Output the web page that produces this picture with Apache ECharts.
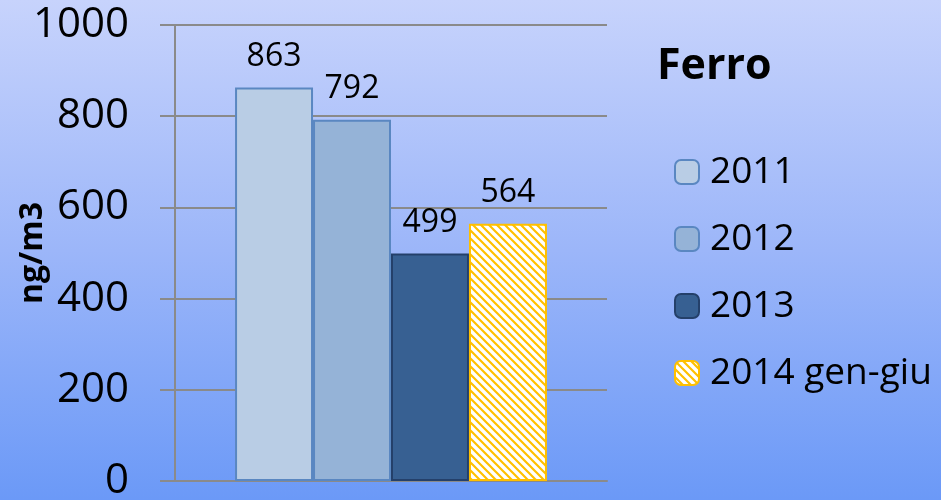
<!DOCTYPE html>
<html>
<head>
<meta charset="utf-8">
<script src="https://cdn.jsdelivr.net/npm/echarts@6/dist/echarts.min.js"></script>
<style>
  html, body { margin: 0; padding: 0; }
  #container {
    width: 941px; height: 500px;
    background: linear-gradient(to bottom, #c7d3fc 0%, #9cb6f9 50%, #6b99f7 100%);
  }
</style>
</head>
<body>
<div id="container"></div>
<script>
var myChart = echarts.init(document.getElementById('container'));

// data
var seriesNames = ['2011', '2012', '2013', '2014 gen-giu'];
var values = [863, 792, 499, 564];
var yTicks = [0, 200, 400, 600, 800, 1000];

var font = 'Open Sans';
var gray = '#8a8a8a';

// diagonal hatch for the last bar
var hatch = document.createElement('canvas');
hatch.width = 8;
hatch.height = 8;
var ctx = hatch.getContext('2d');
ctx.fillStyle = '#ffffff';
ctx.fillRect(0, 0, 8, 8);
ctx.strokeStyle = '#ffc000';
ctx.lineWidth = 2.2;
ctx.beginPath();
ctx.moveTo(-2, -2); ctx.lineTo(10, 10);
ctx.moveTo(-6, 2); ctx.lineTo(2, 10);
ctx.moveTo(6, -2); ctx.lineTo(14, 6);
ctx.stroke();

var fills = ['#b9cde5', '#95b3d7', '#376092', { image: hatch, repeat: 'repeat' }];
var borders = ['#5a87c1', '#5a87c1', '#24406a', '#ffc000'];

var series = seriesNames.map(function (name, i) {
  return {
    name: name,
    type: 'bar',
    barGap: '0%',
    barCategoryGap: '27.8%',
    data: [values[i]],
    itemStyle: { color: fills[i], borderColor: borders[i], borderWidth: 2 },
    label: {
      show: true,
      position: 'top',
      distance: 15,
      color: '#000',
      fontFamily: font,
      fontSize: 32
    }
  };
});

var option = {
  backgroundColor: 'transparent',
  title: {
    text: 'Ferro',
    left: 652,
    top: 40,
    textStyle: { color: '#000', fontFamily: font, fontSize: 43, fontWeight: 'bold' }
  },
  legend: {
    orient: 'vertical',
    left: 669,
    top: 147,
    itemWidth: 24,
    itemHeight: 24,
    itemGap: 27,
    textStyle: { color: '#000', fontFamily: font, fontSize: 37, lineHeight: 40, padding: [0, 0, 0, 6] },
    data: seriesNames
  },
  grid: { left: 175, right: 334, top: 25, bottom: 19, containLabel: false, outerBoundsMode: 'none' },
  xAxis: {
    type: 'category',
    data: ['Ferro'],
    axisLine: { show: true, lineStyle: { color: gray, width: 2 } },
    axisTick: { show: false },
    axisLabel: { show: false }
  },
  yAxis: {
    type: 'value',
    min: yTicks[0],
    max: yTicks[yTicks.length - 1],
    interval: 200,
    name: 'ng/m3',
    nameLocation: 'middle',
    nameRotate: 90,
    nameGap: 126,
    nameMoveOverlap: false,
    nameTextStyle: { color: '#000', fontFamily: font, fontSize: 32, fontWeight: 'bold' },
    axisLine: { show: true, lineStyle: { color: gray, width: 2 } },
    axisTick: { show: true, length: 15, lineStyle: { color: gray, width: 2 } },
    splitLine: { show: true, lineStyle: { color: gray, width: 2 } },
    axisLabel: {
      color: '#000', fontFamily: font, fontSize: 42, margin: 46,
      formatter: function (v) { return String(v); }
    }
  },
  series: series
};

myChart.setOption(option);
</script>
</body>
</html>
